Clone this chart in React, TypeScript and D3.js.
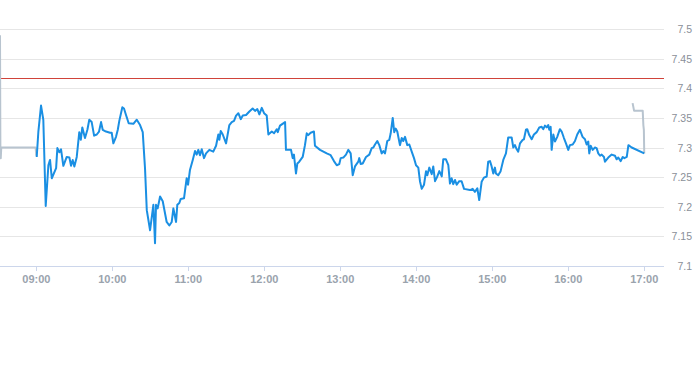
import React from "react";
import * as d3 from "d3";

// minutes relative to 09:00
const sessionMinutes = [
  0.3, 1.6, 3.7, 5.5, 7.4, 9.5, 10.8, 12.2, 15.6, 16.6, 18.2, 19.5, 21.3, 24.0, 26.1, 27.4, 28.7, 30.0, 31.9, 33.9,
  35.1, 36.3, 38.4, 40.3, 41.8, 43.7, 45.6, 47.7, 49.5, 51.1, 52.4, 55.0, 58.2, 59.5, 60.8, 62.9, 64.3, 65.5, 67.9, 69.2,
  70.8, 72.9, 76.6, 79.3, 81.9, 84.0, 85.8, 87.2, 89.8, 92.4, 93.7, 94.5, 95.8, 97.7, 99.8, 102.9, 105.0, 106.9, 108.2, 110.3,
  111.3, 112.9, 114.0, 116.6, 118.7, 119.8, 121.3, 123.5, 125.3, 126.6, 127.9, 129.2, 130.6, 132.4, 134.0, 136.6, 139.7, 141.9, 143.7, 144.5,
  145.6, 147.2, 149.8, 152.4, 154.3, 156.1, 157.7, 159.5, 161.4, 163.0, 165.6, 168.2, 170.8, 172.7, 174.5, 176.1, 178.0, 179.8, 181.9, 183.2,
  185.9, 187.7, 189.8, 190.6, 192.4, 196.4, 197.1, 201.1, 202.4, 203.4, 205.0, 206.1, 207.6, 210.3, 212.1, 213.5, 214.7, 216.6, 219.2, 220.0,
  224.0, 229.3, 232.4, 235.0, 237.2, 239.2, 240.3, 242.4, 244.5, 246.3, 248.2, 249.8, 251.6, 254.2, 255.0, 256.1, 257.7, 260.3, 262.9, 264.8,
  266.1, 267.4, 269.2, 270.8, 272.7, 274.0, 275.3, 277.1, 278.7, 279.8, 281.4, 282.6, 283.7, 285.0, 287.1, 288.5, 289.7, 291.1, 292.9, 294.5,
  296.4, 298.2, 299.8, 301.6, 302.9, 304.3, 306.1, 307.7, 308.7, 310.3, 312.2, 313.4, 314.8, 316.6, 318.2, 320.1, 321.3, 323.4, 325.3, 326.6,
  327.9, 329.2, 330.6, 331.9, 333.9, 335.8, 337.7, 342.4, 344.5, 346.3, 348.2, 349.7, 351.6, 353.4, 355.6, 356.8, 358.2, 359.5, 360.8, 362.1,
  362.9, 364.7, 366.6, 368.7, 370.8, 372.6, 375.3, 376.6, 377.9, 379.3, 380.5, 381.9, 384.0, 385.0, 386.6, 387.6, 389.2, 391.1, 392.9, 395.1,
  397.1, 399.0, 400.3, 401.6, 403.0, 404.2, 405.0, 406.1, 406.9, 408.2, 409.5, 411.3, 413.4, 414.8, 416.6, 418.2, 420.0, 421.3, 423.5, 425.3,
  427.1, 429.2, 431.3, 433.2, 434.5, 435.8, 436.6, 437.7, 439.3, 441.1, 442.4, 443.7, 445.1, 446.4, 448.2, 449.0, 451.6, 454.3, 456.9, 458.2,
  459.5, 461.4, 463.0, 464.3, 466.2, 467.5, 470.1, 480.0,
];

const sessionPrices = [
  7.284, 7.327, 7.371, 7.347, 7.201, 7.270, 7.279, 7.248, 7.265, 7.299, 7.292, 7.297, 7.269, 7.284, 7.283, 7.269, 7.279, 7.268, 7.284, 7.326,
  7.313, 7.334, 7.316, 7.330, 7.347, 7.343, 7.320, 7.322, 7.327, 7.343, 7.330, 7.327, 7.325, 7.325, 7.307, 7.318, 7.330, 7.345, 7.368, 7.366,
  7.355, 7.341, 7.340, 7.347, 7.338, 7.326, 7.265, 7.194, 7.160, 7.203, 7.138, 7.203, 7.197, 7.217, 7.209, 7.174, 7.168, 7.174, 7.197, 7.174,
  7.203, 7.206, 7.213, 7.214, 7.248, 7.237, 7.262, 7.279, 7.294, 7.288, 7.296, 7.287, 7.297, 7.282, 7.290, 7.296, 7.293, 7.303, 7.322, 7.313,
  7.328, 7.322, 7.307, 7.338, 7.343, 7.345, 7.354, 7.358, 7.348, 7.354, 7.355, 7.361, 7.366, 7.362, 7.365, 7.356, 7.367, 7.358, 7.354, 7.322,
  7.327, 7.324, 7.331, 7.326, 7.337, 7.343, 7.296, 7.296, 7.282, 7.288, 7.256, 7.273, 7.276, 7.284, 7.304, 7.324, 7.321, 7.325, 7.327, 7.303,
  7.296, 7.290, 7.287, 7.277, 7.270, 7.272, 7.282, 7.283, 7.288, 7.296, 7.290, 7.253, 7.268, 7.276, 7.282, 7.272, 7.273, 7.284, 7.288, 7.299,
  7.300, 7.305, 7.311, 7.304, 7.290, 7.294, 7.290, 7.311, 7.313, 7.324, 7.350, 7.326, 7.332, 7.327, 7.304, 7.316, 7.311, 7.318, 7.304, 7.305,
  7.293, 7.282, 7.270, 7.266, 7.243, 7.230, 7.237, 7.260, 7.253, 7.266, 7.255, 7.268, 7.243, 7.251, 7.260, 7.251, 7.280, 7.280, 7.270, 7.239,
  7.248, 7.238, 7.245, 7.237, 7.243, 7.243, 7.230, 7.228, 7.230, 7.225, 7.231, 7.211, 7.242, 7.249, 7.251, 7.276, 7.277, 7.268, 7.256, 7.266,
  7.256, 7.253, 7.260, 7.279, 7.290, 7.317, 7.317, 7.300, 7.304, 7.297, 7.293, 7.307, 7.313, 7.314, 7.330, 7.331, 7.321, 7.314, 7.322, 7.326,
  7.334, 7.335, 7.331, 7.337, 7.334, 7.338, 7.330, 7.335, 7.296, 7.322, 7.310, 7.318, 7.331, 7.327, 7.316, 7.307, 7.296, 7.304, 7.305, 7.311,
  7.322, 7.330, 7.318, 7.314, 7.305, 7.310, 7.290, 7.303, 7.296, 7.300, 7.299, 7.290, 7.286, 7.288, 7.284, 7.276, 7.283, 7.288, 7.286, 7.280,
  7.283, 7.277, 7.284, 7.282, 7.284, 7.304, 7.300, 7.290,
];

const preMinutes = [-28.7, -28.4, -28.1, -27.7, -0.6, 0.0];
const prePrices = [7.49, 7.3, 7.282, 7.3, 7.3, 7.286];

const postMinutes = [470.8, 472.0, 478.8, 479.3, 479.7, 480.0];
const postPrices = [7.375, 7.362, 7.362, 7.338, 7.33, 7.29];

const referencePrice = 7.417;

const yTicks = [7.1, 7.15, 7.2, 7.25, 7.3, 7.35, 7.4, 7.45, 7.5];
const xTickLabels = ["09:00", "10:00", "11:00", "12:00", "13:00", "14:00", "15:00", "16:00", "17:00"];

const domainStart = -28.7;
const domainEnd = 495.6;

export default function App() {
  const W = 693;
  const H = 365;
  const plotLeft = 0;
  const plotRight = 664;
  const plotTop = 29.3;
  const plotBottom = 265.7;

  const x = d3.scaleLinear().domain([domainStart, domainEnd]).range([plotLeft, plotRight]);
  const y = d3.scaleLinear().domain([7.1, 7.5]).range([plotBottom, plotTop]);

  const line = d3
    .line<[number, number]>()
    .x((d) => x(d[0]))
    .y((d) => y(d[1]));

  const session = sessionMinutes.map((m, i) => [m, sessionPrices[i]] as [number, number]);
  const pre = preMinutes.map((m, i) => [m, prePrices[i]] as [number, number]);
  const post = postMinutes.map((m, i) => [m, postPrices[i]] as [number, number]);

  const fmt = d3.format(".2~f");
  const tickMinutes = xTickLabels.map((lab) => {
    const [h, mm] = lab.split(":").map(Number);
    return (h - 9) * 60 + mm;
  });

  return (
    <svg
      width={W}
      height={H}
      style={{ position: "absolute", left: 0, top: 0, background: "#fff" }}
      fontFamily="'Liberation Sans', Arial, sans-serif"
    >
      {yTicks.map((t) => (
        <line
          key={"g" + t}
          x1={plotLeft}
          x2={plotRight}
          y1={Math.round(y(t)) + 0.5}
          y2={Math.round(y(t)) + 0.5}
          stroke={t === 7.1 ? "#ccd6eb" : "#e6e6e6"}
          strokeWidth={1}
        />
      ))}
      {yTicks.map((t) => (
        <text
          key={"yl" + t}
          x={692}
          y={y(t)}
          textAnchor="end"
          dominantBaseline="central"
          fontSize={10.5}
          fill="#8a8f99"
        >
          {fmt(t)}
        </text>
      ))}
      {tickMinutes.map((m, i) => (
        <g key={"xt" + i}>
          <line
            x1={Math.round(x(m)) + 0.5}
            x2={Math.round(x(m)) + 0.5}
            y1={Math.round(plotBottom)}
            y2={Math.round(plotBottom) + 5}
            stroke="#ccd6eb"
          />
          <text
            x={x(m)}
            y={279}
            textAnchor="middle"
            dominantBaseline="central"
            fontSize={11}
            fontWeight="bold"
            fill="#9aa3ad"
          >
            {xTickLabels[i]}
          </text>
        </g>
      ))}
      <line
        x1={plotLeft}
        x2={plotRight}
        y1={Math.round(y(referencePrice)) + 0.5}
        y2={Math.round(y(referencePrice)) + 0.5}
        stroke="#d0433a"
        strokeWidth={1}
      />
      <path d={line(pre) || ""} fill="none" stroke="#b8c4cf" strokeWidth={2} strokeLinejoin="round" />
      <path d={line(post) || ""} fill="none" stroke="#b8c4cf" strokeWidth={2} strokeLinejoin="round" />
      <path d={line(session) || ""} fill="none" stroke="#1a8fe3" strokeWidth={2} strokeLinejoin="round" />
    </svg>
  );
}
